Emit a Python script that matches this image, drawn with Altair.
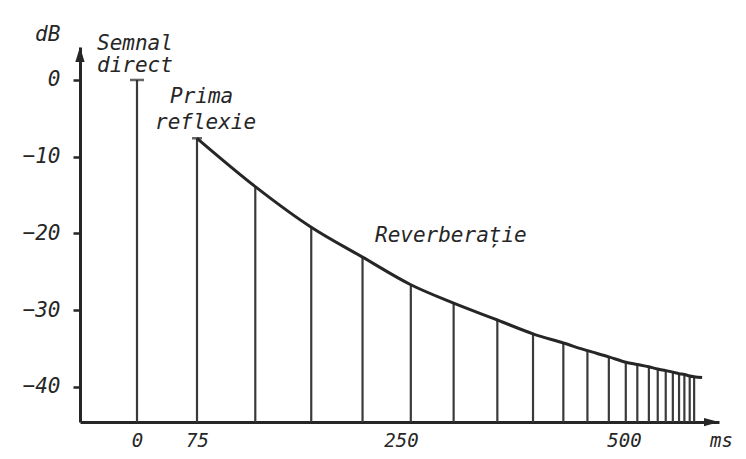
import altair as alt
import pandas as pd

# ---- values ----
direct_ms = [0]
direct_db = [0.0]
first_ms = [75]
first_db = [-7.6]
reverb_ms = [125, 173, 217, 261, 309, 358, 398, 432, 459, 483,
             502, 515, 528, 538, 547, 555, 562, 568, 574, 579]
reverb_db = [-13.9, -19.2, -23.1, -26.7, -29.1, -31.3, -33.1, -34.3, -35.3, -36.1,
             -36.8, -37.1, -37.4, -37.7, -37.9, -38.1, -38.3, -38.4, -38.6, -38.7]
curve_end_ms = [588]
curve_end_db = [-38.8]
x_tick_values = [0, 75, 250, 500]
y_tick_values = [0, -10, -20, -30, -40]

# schematic (non-linear) time axis: piecewise scale breakpoints
x_domain = [-71, 0, 75, 250, 500, 607]
x_range = [0, 57, 117, 321, 544, 639]
y_domain = [-44.6, 4.3]

INK = "#262626"
FONT = "DejaVu Sans Mono"

spikes = pd.DataFrame({"ms": direct_ms + first_ms + reverb_ms,
                       "db": direct_db + first_db + reverb_db})
curve = pd.DataFrame({"ms": first_ms + reverb_ms + curve_end_ms,
                      "db": first_db + reverb_db + curve_end_db})
direct_df = pd.DataFrame({"ms": direct_ms, "db": direct_db})
first_df = pd.DataFrame({"ms": first_ms, "db": first_db})

xs = alt.Scale(domain=x_domain, range=x_range, nice=False, zero=False)
ys = alt.Scale(domain=y_domain, nice=False, zero=False)

x_axis = alt.Axis(values=x_tick_values, ticks=False, labelPadding=9, title=None,
                  grid=False, domainWidth=3, domainColor=INK, labelFont=FONT,
                  labelFontStyle="italic", labelFontSize=19, labelColor=INK,
                  labelFlush=False, format="d")
y_axis = alt.Axis(values=y_tick_values, tickSize=7, tickWidth=2.5, tickColor=INK,
                  labelPadding=13, title=None, grid=False, domainWidth=3,
                  domainColor=INK, labelFont=FONT, labelFontStyle="italic",
                  labelFontSize=21, labelColor=INK, format="d")

rules = alt.Chart(spikes).mark_rule(color="#3a3a3a", strokeWidth=2.2).encode(
    x=alt.X("ms:Q", scale=xs, axis=x_axis),
    y=alt.Y("db:Q", scale=ys, axis=y_axis),
    y2=alt.datum(y_domain[0]),
)

envelope = alt.Chart(curve).mark_line(interpolate="monotone", color=INK,
                                      strokeWidth=3).encode(
    x=alt.X("ms:Q", scale=xs),
    y=alt.Y("db:Q", scale=ys),
)

cap_direct = alt.Chart(direct_df).mark_tick(orient="horizontal", thickness=2.5,
                                            size=14, color=INK).encode(
    x=alt.X("ms:Q", scale=xs), y=alt.Y("db:Q", scale=ys))
cap_first = alt.Chart(first_df).mark_tick(orient="horizontal", thickness=2.5,
                                          size=10, color=INK).encode(
    x=alt.X("ms:Q", scale=xs), y=alt.Y("db:Q", scale=ys))

dummy = alt.Data(values=[{}])
up_arrow = alt.Chart(dummy).mark_point(filled=True, opacity=1).encode(
    x=alt.value(0), y=alt.value(7.5),
    shape=alt.value("M0,-1L0.62,1L-0.62,1Z"),
    size=alt.value(225), color=alt.value(INK))
right_arrow = alt.Chart(dummy).mark_point(filled=True, opacity=1).encode(
    x=alt.value(631.5), y=alt.value(375),
    shape=alt.value("M1,0L-1,0.55L-1,-0.55Z"),
    size=alt.value(225), color=alt.value(INK))


def label(txt, x, y, size=21):
    return alt.Chart(dummy).mark_text(
        text=txt, font=FONT, fontStyle="italic", fontSize=size, color=INK,
        align="left", baseline="alphabetic"
    ).encode(x=alt.value(x), y=alt.value(y))


texts = [
    label("dB", -45, -6),
    label("Semnal", 17, 3),
    label("direct", 17, 25),
    label("Prima", 90, 56),
    label("reflexie", 75, 82),
    label("Reverberație", 295, 195),
    label("ms", 630, 400, 19),
]

chart = alt.layer(rules, envelope, cap_direct, cap_first, up_arrow, right_arrow,
                  *texts).properties(
    width=639, height=375,
    autosize=alt.AutoSizeParams(type="none"),
    padding={"left": 72, "top": 39, "right": 19, "bottom": 29},
    background="white",
).configure_view(stroke=None)

chart.save("out.html", embed_options={"renderer": "svg", "actions": False})
